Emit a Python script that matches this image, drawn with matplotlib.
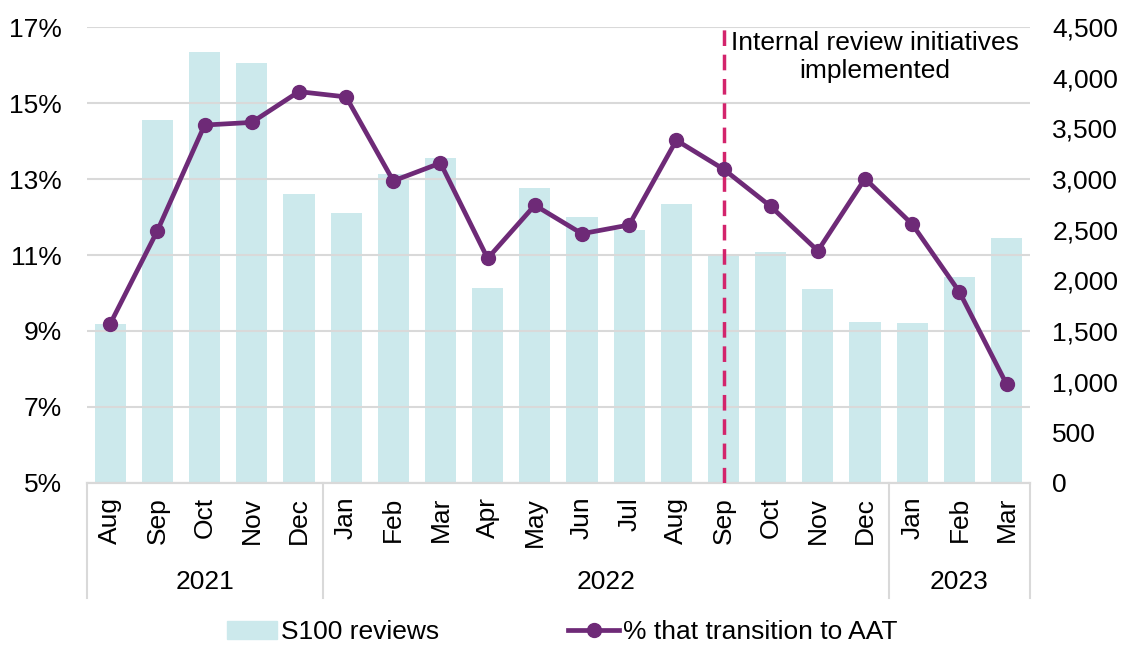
import numpy as np
import matplotlib
matplotlib.use("Agg")
import matplotlib.pyplot as plt
from matplotlib.patches import Patch
from matplotlib.lines import Line2D

plt.rcParams['font.family'] = ['Liberation Sans', 'DejaVu Sans']

months = ["Aug", "Sep", "Oct", "Nov", "Dec",
          "Jan", "Feb", "Mar", "Apr", "May", "Jun", "Jul", "Aug", "Sep", "Oct", "Nov", "Dec",
          "Jan", "Feb", "Mar"]
years = ["2021", "2022", "2023"]
year_counts = [5, 12, 3]
reviews = [1573, 3582, 4253, 4145, 2854, 2663, 3048, 3209, 1929, 2913,
           2627, 2492, 2758, 2242, 2281, 1916, 1590, 1580, 2034, 2413]
pct_aat = [9.19, 11.64, 14.42, 14.49, 15.30, 15.16, 12.95, 13.42, 10.91, 12.31,
           11.56, 11.79, 14.02, 13.26, 12.28, 11.11, 13.01, 11.81, 10.03, 7.60]
initiative_idx = 13
note = "Internal review initiatives\nimplemented"

bar_col = "#cce9ec"
line_col = "#6e2a77"
dash_col = "#d3246c"
grid_col = "#d9d9d9"
fs = 19

fig = plt.figure(figsize=(11.24, 6.45), dpi=100)
ax = fig.add_axes([0.0771, 0.2512, 0.8394, 0.7069])
ax2 = ax.twinx()
x = np.arange(len(months))

ax2.bar(x, reviews, width=0.66, color=bar_col, zorder=2)
ax2.set_ylim(0, 4500)
ax2.set_yticks(np.arange(0, 4501, 500))
ax2.set_yticklabels([f"{v:,}" for v in range(0, 4501, 500)], fontsize=fs)

ax.set_zorder(ax2.get_zorder() + 1)
ax.patch.set_visible(False)
ax.axvline(initiative_idx, color=dash_col, lw=2.5, ls=(0, (4.5, 2.5)), zorder=3)
ax.plot(x, pct_aat, color=line_col, lw=3.4, marker='o', ms=10, zorder=4)
ax.set_ylim(5, 17)
ax.set_yticks(np.arange(5, 18, 2))
ax.set_yticklabels([f"{v}%" for v in range(5, 18, 2)], fontsize=fs)
ax.set_xlim(-0.5, len(months) - 0.5)
ax.set_xticks(x)
ax.set_xticklabels(months, rotation=90, fontsize=fs)
ax.grid(axis='y', color=grid_col, lw=1.5, zorder=0)
ax.set_axisbelow(True)
ax.tick_params(axis='y', length=0, pad=18)
ax.tick_params(axis='x', length=0, pad=10)
ax2.tick_params(length=0, pad=16)

for a in (ax, ax2):
    for s in ("top", "left", "right"):
        a.spines[s].set_visible(False)
    a.spines["bottom"].set_color(grid_col)
    a.spines["bottom"].set_linewidth(1.5)

ax.text(16.2, 16.22, note, ha='center', va='center', fontsize=fs, linespacing=1.2,
        zorder=5)

# year group labels and separators under the month ticks
trans = ax.get_xaxis_transform()
edges = np.concatenate([[0], np.cumsum(year_counts)]) - 0.5
for e in edges:
    ax.plot([e, e], [0, -0.252], transform=trans, color=grid_col, lw=1.5, clip_on=False)
for i, yr in enumerate(years):
    ax.text((edges[i] + edges[i + 1]) / 2, -0.217, yr, transform=trans,
            ha='center', va='center', fontsize=fs)

handles = [Patch(color=bar_col),
           Line2D([0], [0], color=line_col, lw=3.4, marker='o', ms=10)]
fig.legend(handles, ["S100 reviews", "% that transition to AAT"], loc='center',
           bbox_to_anchor=(0.5, 0.02), ncol=2, frameon=False, fontsize=fs,
           handlelength=1.9, handletextpad=0.15, columnspacing=4.9)

fig.savefig("out.png", dpi=100)
